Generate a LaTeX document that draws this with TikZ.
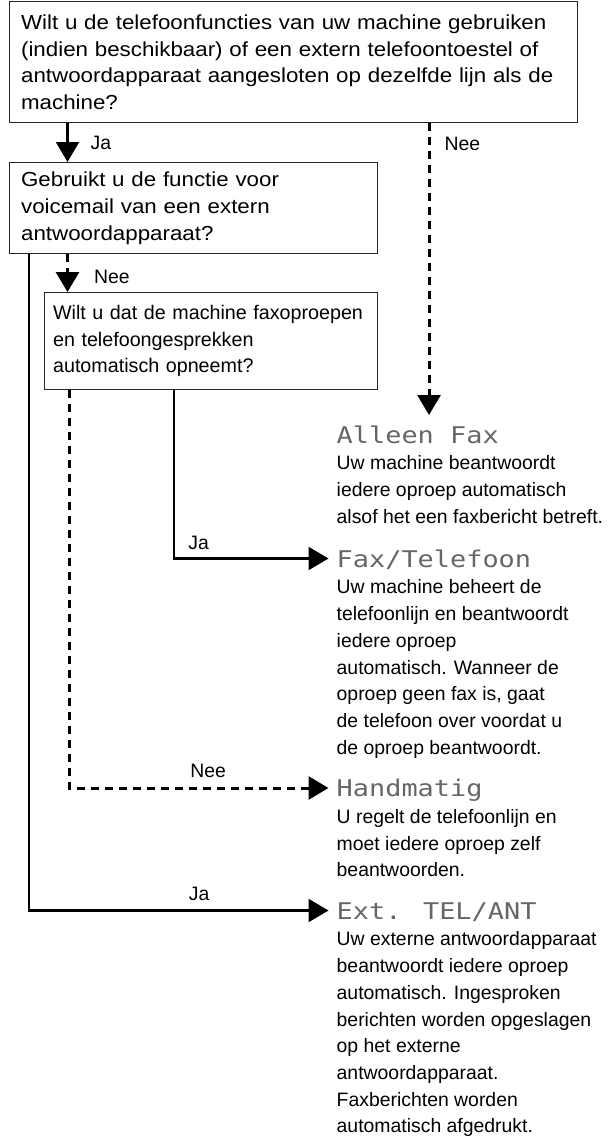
\documentclass[tikz,border=0pt]{standalone}
\usepackage{fontspec}
\setmainfont{Liberation Sans}
\newfontfamily\wijdfont{Liberation Sans}[FakeStretch=1.1]
\newfontfamily\lcdfont{DejaVu Sans Mono}[FakeStretch=1.17]
\usetikzlibrary{arrows.meta,positioning}
\hyphenpenalty=10000
\exhyphenpenalty=10000

\tikzset{
  vraag/.style={draw=black!85, line width=1.2pt, rectangle, anchor=north west, align=left, inner ysep=0pt},
  lcd/.style={font=\lcdfont\fontsize{23}{26.7}\selectfont, text=black!60, inner xsep=8pt, inner ysep=0pt, text height=17pt, text depth=0pt, anchor=west},
  uitleg/.style={align=left, inner sep=0pt, font=\fontsize{19.4}{26.7}\selectfont},
  ja/.style={line width=2.2pt, -{Triangle[width=23pt,length=20pt]}},
  nee/.style={ja, line width=3pt, dash pattern=on 8pt off 6pt},
  lbl/.style={inner sep=0pt, font=\fontsize{19.4}{20}\selectfont, text depth=0pt},
}

\begin{document}
\begin{tikzpicture}[x=1pt, y=-1pt]
\useasboundingbox (0,0) rectangle (613,1137);

% Questions
\node[vraag, inner xsep=12pt, text width=544.5pt, minimum height=121pt, font=\wijdfont\fontsize{20.3}{26.7}\selectfont] (q1) at (8.5,1)
  {Wilt u de telefoonfuncties van uw machine gebruiken\\(indien beschikbaar) of een extern telefoontoestel of\\antwoordapparaat aangesloten op dezelfde lijn als de\\machine?};
\node[vraag, inner xsep=12pt, text width=344.5pt, minimum height=91pt, font=\wijdfont\fontsize{20.3}{26.7}\selectfont] (q2) at (8.5,162)
  {Gebruikt u de functie voor\\voicemail van een extern\\antwoordapparaat?};
\node[vraag, inner xsep=9pt, text width=315.5pt, minimum height=97pt, font=\fontsize{19.7}{26.7}\selectfont] (q3) at (43.5,292)
  {Wilt u dat de machine faxoproepen\\en telefoongesprekken\\automatisch opneemt?};

% Modes
\node[lcd] (t1) at (328.5,434.5) {Alleen Fax};
\node[lcd] (t2) at (328.5,558.5) {Fax/Telefoon};
\node[lcd] (t3) at (328.5,788) {Handmatig};
\node[lcd] (t4) at (328.5,910.5) {Ext. TEL/ANT};

% Explanations
\node[uitleg, below right=12.5pt and 8pt of t1.south west] (d1)
  {Uw machine beantwoordt\\iedere oproep automatisch\\alsof het een faxbericht betreft.};
\node[uitleg, below right=12.5pt and 8pt of t2.south west] (d2)
  {Uw machine beheert de\\telefoonlijn en beantwoordt\\iedere oproep\\automatisch. Wanneer de\\oproep geen fax is, gaat\\de telefoon over voordat u\\de oproep beantwoordt.};
\node[uitleg, below right=12.5pt and 8pt of t3.south west] (d3)
  {U regelt de telefoonlijn en\\moet iedere oproep zelf\\beantwoorden.};
\node[uitleg, below right=12.5pt and 8pt of t4.south west] (d4)
  {Uw externe antwoordapparaat\\beantwoordt iedere oproep\\automatisch. Ingesproken\\berichten worden opgeslagen\\op het externe\\antwoordapparaat.\\Faxberichten worden\\automatisch afgedrukt.};

% Arrows
\coordinate (alleen) at (429,415);
\draw[ja] ([xshift=59pt]q1.south west) -- node[lbl, pos=0.5, right=22pt] {Ja} ([xshift=59pt]q2.north west);
\draw[nee] (q1.south -| alleen) -- node[lbl, pos=0.07, right=14pt] {Nee} (alleen);
\draw[nee] ([xshift=59pt]q2.south west) -- node[lbl, pos=0.59, right=25pt] {Nee} ([xshift=24pt]q3.north west);
\draw[ja] ([xshift=130.5pt]q3.south west) |- node[lbl, pos=0.58, above=8pt] {Ja} (t2.west);
\draw[nee] ([xshift=25.5pt]q3.south west) |- node[lbl, pos=0.768, above=9pt] {Nee} (t3.west);
\draw[ja] ([xshift=20.5pt]q2.south west) |- node[lbl, pos=0.784, above=9pt] {Ja} (t4.west);
\end{tikzpicture}
\end{document}
